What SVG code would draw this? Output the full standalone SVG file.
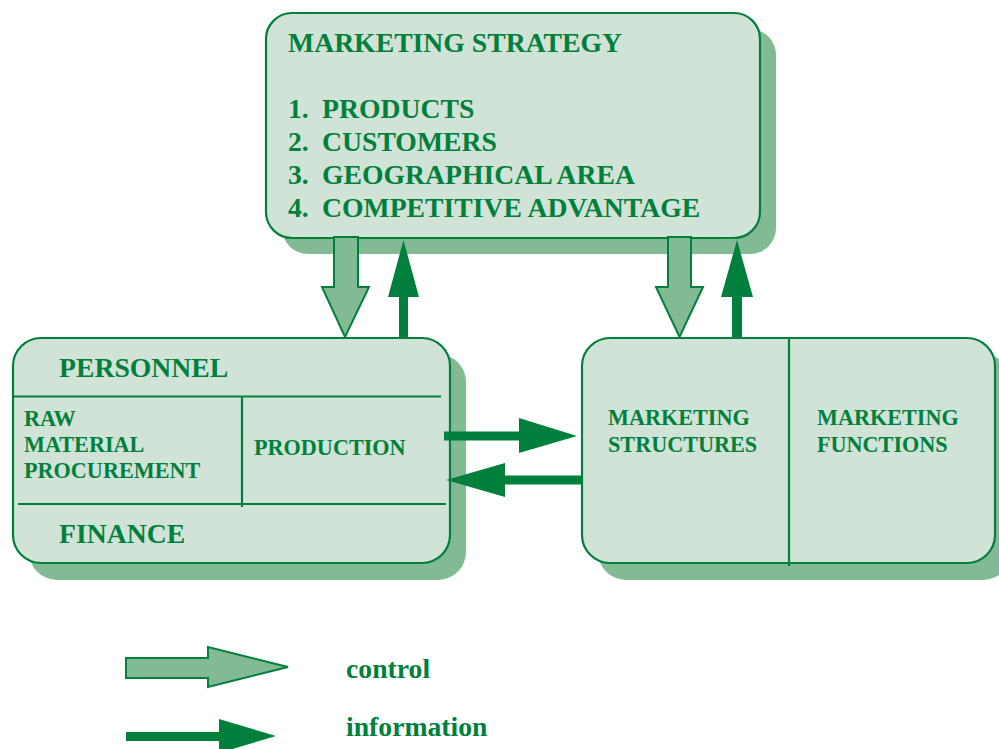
<svg xmlns="http://www.w3.org/2000/svg" width="999" height="749" viewBox="0 0 999 749">
<style>
.shadow{fill:#82ba94;stroke:none}
.box{fill:#d1e3d7;stroke:#00803c;stroke-width:2.2}
.div{stroke:#00803c;stroke-width:2.2;fill:none}
.t{font-weight:bold;fill:#00803c}
.big{font-size:27.7px}
.small{font-size:22.2px}
.ctrl{fill:#82ba94;stroke:#00803c;stroke-width:2;stroke-linejoin:miter}
.info{fill:#00803c;stroke:none}
</style>
<rect width="999" height="749" fill="#ffffff"/>
<g font-family="Liberation Serif, Times New Roman, serif">
<g id="strategy">
<rect class="shadow" x="282" y="29" width="494" height="225" rx="26"/>
<rect class="box" x="266" y="13" width="494" height="225" rx="26"/>
<text class="t big" x="288" y="52">MARKETING STRATEGY</text>
<text class="t big" x="288" y="118">1.</text><text class="t big" x="322" y="118">PRODUCTS</text>
<text class="t big" x="288" y="151">2.</text><text class="t big" x="322" y="151">CUSTOMERS</text>
<text class="t big" x="288" y="184">3.</text><text class="t big" x="322" y="184">GEOGRAPHICAL AREA</text>
<text class="t big" x="288" y="217">4.</text><text class="t big" x="322" y="217">COMPETITIVE ADVANTAGE</text>
</g>
<g id="operations">
<rect class="shadow" x="29" y="354" width="437" height="226" rx="28"/>
<rect class="box" x="13" y="338" width="437" height="225" rx="28"/>
<line class="div" x1="12" y1="396.5" x2="441" y2="396.5"/>
<line class="div" x1="18" y1="504" x2="446" y2="504"/>
<line class="div" x1="242" y1="397" x2="242" y2="507"/>
<text class="t big" x="59" y="377">PERSONNEL</text>
<text class="t small" x="24" y="426">RAW</text>
<text class="t small" x="24" y="452">MATERIAL</text>
<text class="t small" x="24" y="478">PROCUREMENT</text>
<text class="t small" x="254" y="455">PRODUCTION</text>
<text class="t big" x="59" y="543">FINANCE</text>
</g>
<g id="marketing">
<rect class="shadow" x="598" y="354" width="413" height="226" rx="28"/>
<rect class="box" x="582" y="338" width="413" height="225" rx="28"/>
<line class="div" x1="789" y1="338" x2="789" y2="566"/>
<text class="t small" x="608" y="425">MARKETING</text>
<text class="t small" x="608" y="452">STRUCTURES</text>
<text class="t small" x="817" y="425">MARKETING</text>
<text class="t small" x="817" y="452">FUNCTIONS</text>
</g>
<g id="connectors">
<polygon class="ctrl" points="334,237 358,237 358,287 369,287 345,337 322,287 334,287"/>
<polygon class="info" points="399,338 408,338 408,297 419,297 403.5,240 388,297 399,297"/>
<polygon class="ctrl" points="668,237 691,237 691,287 703,287 679.5,337 656,287 668,287"/>
<polygon class="info" points="732,338 742,338 742,297 753,297 737,240 721,297 732,297"/>
<polygon class="info" points="444,431.5 519,431.5 519,418 577,436 519,453 519,440.5 444,440.5"/>
<polygon class="info" points="582,475.5 505,475.5 505,463 446,480 505,497 505,484.5 582,484.5"/>
</g>
<g id="legend">
<polygon class="ctrl" points="126,658 208,658 208,647 288,667 208,687 208,678 126,678"/>
<text class="t big" x="346" y="678">control</text>
<polygon class="info" points="126,732 219,732 219,719 276,736 219,753 219,741 126,741"/>
<text class="t big" x="346" y="736">information</text>
</g>
</g>
</svg>
